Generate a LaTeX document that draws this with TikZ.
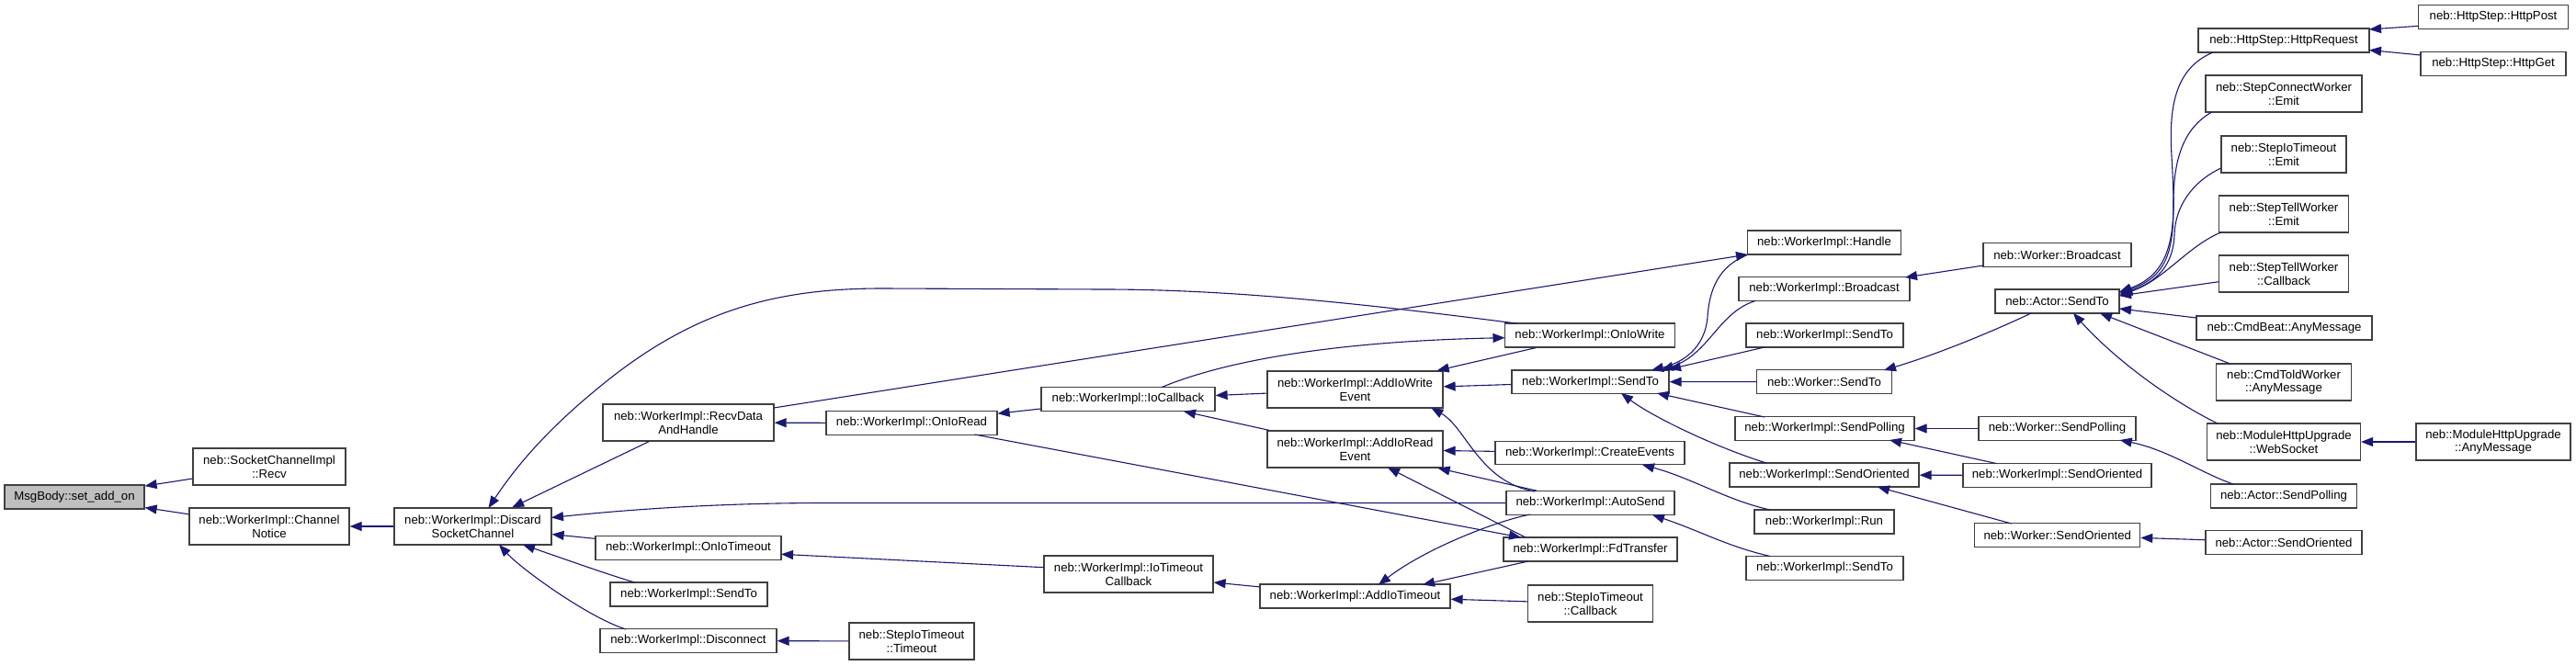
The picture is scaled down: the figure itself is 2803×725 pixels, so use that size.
\documentclass[tikz,border=0pt]{standalone}
\usepackage{fontspec}
\setmainfont{Liberation Sans}
\usetikzlibrary{arrows.meta,calc}
\definecolor{edgec}{HTML}{191970}
\definecolor{boxc}{HTML}{404040}
\definecolor{msgfill}{HTML}{BFBFBF}
\newcommand\nodefont{\fontsize{13.2}{14.6}\selectfont}
\newcommand\mkn[6]{\node[box,minimum width=#4pt,minimum height=#5pt] (#1) at (#2,#3) {#6};}
\begin{document}
\begin{tikzpicture}[x=1pt,y=-1pt,
  box/.style={draw=boxc,line width=1.2pt,fill=white,inner sep=0pt,align=center,font=\nodefont},
  edge/.style={draw=edgec,line width=1.1pt,-{Triangle[length=13pt,width=10pt]}}]
\fill[white] (0,0) rectangle (2803,725);
\useasboundingbox (0,0) rectangle (2803,725);
% nodes
\node[box,fill=msgfill,minimum width=152pt,minimum height=26pt] (msg) at (81,541) {MsgBody::set\_add\_on};
\mkn{recv}{293}{508}{166}{40}{neb::SocketChannelImpl\\::Recv}
\mkn{notice}{293}{573}{174}{40}{neb::WorkerImpl::Channel\\Notice}
\mkn{discard}{514.5}{573}{171}{40}{neb::WorkerImpl::Discard\\SocketChannel}
\mkn{rdah}{749}{460}{186}{40}{neb::WorkerImpl::RecvData\\AndHandle}
\mkn{oniotimeout}{749}{596.5}{202}{25.5}{neb::WorkerImpl::OnIoTimeout}
\mkn{sendtoL}{749.5}{647}{171}{26}{neb::WorkerImpl::SendTo}
\mkn{disconnect}{749}{697.5}{192}{25.5}{neb::WorkerImpl::Disconnect}
\mkn{onioread}{992}{460.5}{186}{25.5}{neb::WorkerImpl::OnIoRead}
\mkn{stimeout}{992}{698}{136}{40}{neb::StepIoTimeout\\::Timeout}
\mkn{iocallback}{1227.5}{434.5}{189}{25.5}{neb::WorkerImpl::IoCallback}
\mkn{iotcb}{1228}{625}{184}{40}{neb::WorkerImpl::IoTimeout\\Callback}
\mkn{addwrite}{1474.5}{424}{191}{40}{neb::WorkerImpl::AddIoWrite\\Event}
\mkn{addread}{1474.5}{489}{191}{40}{neb::WorkerImpl::AddIoRead\\Event}
\mkn{addtimeout}{1474.5}{649}{207}{26}{neb::WorkerImpl::AddIoTimeout}
\mkn{oniowrite}{1730}{365}{185}{26}{neb::WorkerImpl::OnIoWrite}
\mkn{hub}{1730.5}{415.7}{171}{25.5}{neb::WorkerImpl::SendTo}
\mkn{createevents}{1730}{493}{206}{25.5}{neb::WorkerImpl::CreateEvents}
\mkn{autosend}{1730.5}{547.5}{183}{25.5}{neb::WorkerImpl::AutoSend}
\mkn{fdtransfer}{1730.5}{598}{189}{26}{neb::WorkerImpl::FdTransfer}
\mkn{scallback}{1730.5}{657}{136}{40}{neb::StepIoTimeout\\::Callback}
\mkn{handle}{1985}{264}{167}{26}{neb::WorkerImpl::Handle}
\mkn{wibroadcast}{1985}{314.5}{186}{25.5}{neb::WorkerImpl::Broadcast}
\mkn{sendtoU}{1985.5}{365}{171}{26}{neb::WorkerImpl::SendTo}
\mkn{wsendto}{1985}{415.5}{147}{25.5}{neb::Worker::SendTo}
\mkn{wisendpolling}{1985.5}{466.5}{195}{25.5}{neb::WorkerImpl::SendPolling}
\mkn{wisendoriented}{1985}{517}{206}{26}{neb::WorkerImpl::SendOriented}
\mkn{run}{1985}{568}{152}{26}{neb::WorkerImpl::Run}
\mkn{sendtoLow}{1985.5}{618.5}{171}{25.5}{neb::WorkerImpl::SendTo}
\mkn{wbroadcast}{2238.5}{277.5}{161}{25.5}{neb::Worker::Broadcast}
\mkn{actorsendto}{2238.5}{328}{135}{26}{neb::Actor::SendTo}
\mkn{wsendpolling}{2238.5}{466.5}{171}{25.5}{neb::Worker::SendPolling}
\mkn{wisendorientedR}{2238.5}{517.5}{205}{25.5}{neb::WorkerImpl::SendOriented}
\mkn{wsendoriented}{2238.7}{582.5}{180}{25.5}{neb::Worker::SendOriented}
\mkn{httprequest}{2485}{44}{186}{26}{neb::HttpStep::HttpRequest}
\mkn{stepconnect}{2485}{102}{170}{40}{neb::StepConnectWorker\\::Emit}
\mkn{stepioemit}{2485}{168}{136}{40}{neb::StepIoTimeout\\::Emit}
\mkn{steptellemit}{2485}{233}{141}{40}{neb::StepTellWorker\\::Emit}
\mkn{steptellcb}{2485}{298}{141}{40}{neb::StepTellWorker\\::Callback}
\mkn{cmdbeat}{2485.5}{357}{191}{26}{neb::CmdBeat::AnyMessage}
\mkn{cmdtold}{2485}{416}{147}{40}{neb::CmdToldWorker\\::AnyMessage}
\mkn{websocket}{2485}{481}{167}{40}{neb::ModuleHttpUpgrade\\::WebSocket}
\mkn{mhuany}{2713}{481}{168}{40}{neb::ModuleHttpUpgrade\\::AnyMessage}
\mkn{actorsendpolling}{2485}{540}{159}{26}{neb::Actor::SendPolling}
\mkn{actorsendoriented}{2485}{590.5}{170}{25.5}{neb::Actor::SendOriented}
\mkn{httppost}{2713}{18.5}{163}{25.5}{neb::HttpStep::HttpPost}
\mkn{httpget}{2713}{69.5}{158}{25.5}{neb::HttpStep::HttpGet}
% edges
\draw[edge] (recv) -- (msg);
\draw[edge] (notice) -- (msg);
\draw[edge] (discard) -- (notice);
\draw[edge] (rdah) -- (discard);
\draw[edge] (oniotimeout) -- (discard);
\draw[edge] ($(sendtoL)+(-58.8,-13)$) .. controls (660,625) and (610,607) .. ($(discard)+(54.5,20)$);
\draw[edge] ($(disconnect)+(-68,-12.5)$) .. controls (640,672) and (568,620) .. ($(discard)+(28.5,20)$);
\draw[edge] ($(oniowrite)+(-80,-13)$) .. controls (1500,333) and (1350,315) .. (1200,315) -- (960,314) .. controls (850,314) and (760,335) .. (660,415) .. controls (610,455) and (570,495) .. ($(discard)+(17,-20)$);
\draw[edge] (autosend.west) -- (900,547.5) .. controls (780,547.5) and (680,555) .. ($(discard)+(85.5,-9.5)$);
\draw[edge] ($(rdah)+(93,-16)$) -- ($(handle)+(-83,13)$);
\draw[edge] (onioread) -- (rdah);
\draw[edge] (iocallback) -- (onioread);
\draw[edge] ($(onioread)+(68.4,12.5)$) -- ($(fdtransfer)+(-75.5,-13)$);
\draw[edge] ($(iotcb)+(-92,-7.3)$) -- ($(oniotimeout)+(101,6.8)$);
\draw[edge] (stimeout) -- (disconnect);
\draw[edge] (addwrite) -- (iocallback);
\draw[edge] (addread) -- (iocallback);
\draw[edge] (oniowrite) -- (addwrite);
\draw[edge] (hub) -- (addwrite);
\draw[edge] ($(iocallback)+(36.5,-12.9)$) .. controls (1320,398) and (1430,372) .. ($(oniowrite)+(-92.5,2.7)$);
\draw[edge] (createevents) -- (addread);
\draw[edge] (autosend) -- (addread);
\draw[edge] ($(autosend)+(-60.5,-12.5)$) .. controls (1610,525) and (1595,465) .. ($(addwrite)+(82.8,20)$);
\draw[edge] ($(fdtransfer)+(-70.5,-13)$) -- ($(addread)+(35.5,20)$);
\draw[edge] ($(autosend)+(-65.5,12.5)$) .. controls (1625,568) and (1550,598) .. ($(addtimeout)+(25.5,-12.5)$);
\draw[edge] ($(fdtransfer)+(-67.5,13)$) -- ($(addtimeout)+(73.5,-12.5)$);
\draw[edge] (addtimeout) -- (iotcb);
\draw[edge] (scallback) -- (addtimeout);
\draw[edge] (handle.south west) .. controls (1870,290) and (1860,315) .. (1858,345) .. controls (1855,380) and (1830,395) .. ($(hub)+(66.5,-12.7)$);
\draw[edge] ($(wibroadcast)+(-75,13)$) .. controls (1870,340) and (1860,385) .. ($(hub)+(77.5,-12.7)$);
\draw[edge] ($(sendtoU)+(-65.5,13)$) -- ($(hub)+(85.5,-13.7)$);
\draw[edge] (wsendto) -- (hub);
\draw[edge] ($(wisendpolling)+(-65.5,-12.5)$) -- ($(hub)+(72.5,12.3)$);
\draw[edge] ($(wisendoriented)+(-63,-13)$) .. controls (1870,488) and (1800,455) .. ($(hub)+(33.5,12.3)$);
\draw[edge] ($(run)+(-59,-13)$) .. controls (1880,545) and (1840,520) .. ($(createevents)+(57,13)$);
\draw[edge] ($(sendtoLow)+(-59.5,-13)$) .. controls (1880,595) and (1850,578) .. ($(autosend)+(67.5,13)$);
\draw[edge] ($(wbroadcast)+(-80.5,11.5)$) -- ($(wibroadcast)+(88,-12.5)$);
\draw[edge] ($(actorsendto)+(-28.5,13)$) .. controls (2170,360) and (2110,385) .. ($(wsendto)+(65,-12.5)$);
\draw[edge] (wsendpolling) -- (wisendpolling);
\draw[edge] ($(wisendorientedR)+(-65.5,-12.8)$) -- ($(wisendpolling)+(70.5,12.5)$);
\draw[edge] (wisendorientedR) -- (wisendoriented);
\draw[edge] ($(wsendoriented)+(-50,-12.5)$) -- ($(wisendoriented)+(58,13)$);
\draw[edge] ($(httprequest)+(-77,13)$) .. controls (2365,75) and (2360,120) .. (2363,170) .. controls (2367,240) and (2370,295) .. ($(actorsendto)+(67.5,-10)$);
\draw[edge] ($(stepconnect)+(-78.3,20)$) .. controls (2375,140) and (2365,175) .. (2365,220) .. controls (2365,270) and (2360,300) .. ($(actorsendto)+(68.5,-9)$);
\draw[edge] ($(stepioemit)+(-68.3,15)$) .. controls (2385,198) and (2367,225) .. (2366,255) .. controls (2365,290) and (2345,308) .. ($(actorsendto)+(68.5,-8)$);
\draw[edge] ($(steptellemit)+(-68.3,20)$) .. controls (2380,268) and (2355,305) .. ($(actorsendto)+(68.5,-7)$);
\draw[edge] ($(steptellcb)+(-70.5,8.7)$) -- ($(actorsendto)+(67.5,-6)$);
\draw[edge] ($(cmdbeat)+(-95.5,-11)$) -- ($(actorsendto)+(67.5,8)$);
\draw[edge] ($(cmdtold)+(-58.3,-20)$) -- ($(actorsendto)+(46.5,13)$);
\draw[edge] ($(websocket)+(-72,-20)$) .. controls (2360,435) and (2300,390) .. ($(actorsendto)+(17.5,13)$);
\draw[edge] ($(httppost)+(-81.5,9.8)$) -- ($(httprequest)+(93,-12)$);
\draw[edge] ($(httpget)+(-79,-9.5)$) -- ($(httprequest)+(93,10.5)$);
\draw[edge] ($(actorsendpolling)+(-55,-13)$) .. controls (2395,515) and (2360,490) .. ($(wsendpolling)+(68.2,12.5)$);
\draw[edge] (actorsendoriented) -- (wsendoriented);
\draw[edge] (mhuany) -- (websocket);
\end{tikzpicture}
\end{document}
